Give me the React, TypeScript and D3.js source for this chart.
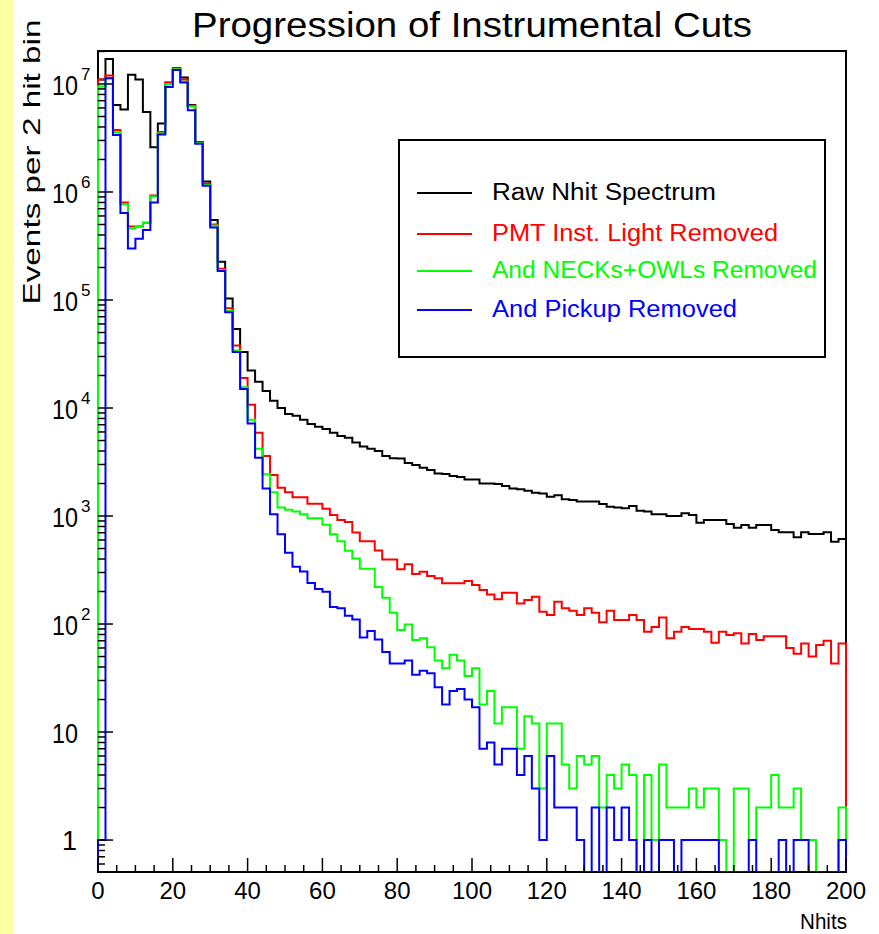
import React from "react";
import * as d3 from "d3";

// ---------- data (events per 2-hit bin, bins 0-2, 2-4, ... 198-200) ----------
const binWidth = 2;
const nBins = 100;

const rawNhit = [
  1.1e7, 1.7e7, 6.4e6, 5.8e6, 1.22e7, 1.1e7, 5.5e6, 2.6e6, 4.3e6, 1.03e7,
  1.4e7, 1.15e7, 6.4e6, 2.9e6, 1.25e6, 5.5e5, 2.26e5, 1.03e5, 5.4e4, 3.3e4,
  2.23e4, 1.75e4, 1.44e4, 1.17e4, 1.0e4, 8.8e3, 8.5e3, 7.8e3, 7.1e3, 6.7e3,
  6.4e3, 5.9e3, 5.5e3, 5.3e3, 4.8e3, 4.4e3, 4.2e3, 4.0e3, 3.6e3, 3.42e3,
  3.4e3, 3.1e3, 2.97e3, 2.8e3, 2.67e3, 2.48e3, 2.45e3, 2.35e3, 2.3e3, 2.18e3,
  2.18e3, 2.0e3, 2.0e3, 1.98e3, 1.9e3, 1.8e3, 1.77e3, 1.71e3, 1.64e3, 1.62e3,
  1.51e3, 1.56e3, 1.43e3, 1.41e3, 1.36e3, 1.36e3, 1.36e3, 1.29e3, 1.22e3, 1.2e3,
  1.18e3, 1.24e3, 1.12e3, 1.1e3, 1.04e3, 1.04e3, 1.0e3, 1.0e3, 1.06e3, 1.02e3,
  867, 918, 918, 918, 843, 779, 826, 779, 826, 826,
  742, 706, 706, 635, 706, 681, 681, 706, 578, 612,
];

const pmtLightRemoved = [
  1.1e7, 1.2e7, 3.75e6, 8.0e5, 4.8e5, 4.8e5, 5.2e5, 9.3e5, 3.6e6, 1.02e7,
  1.38e7, 1.1e7, 6.3e6, 2.85e6, 1.19e6, 5.0e5, 1.95e5, 8.4e4, 3.8e4, 1.9e4,
  1.07e4, 5.9e3, 3.6e3, 2.4e3, 1.83e3, 1.66e3, 1.49e3, 1.49e3, 1.3e3, 1.3e3,
  1.17e3, 1.02e3, 917, 880, 705, 585, 585, 480, 395, 395,
  321, 357, 290, 305, 278, 265, 238, 238, 238, 250,
  230, 207, 188, 170, 195, 195, 155, 167, 179, 130,
  121, 161, 140, 133, 121, 140, 127, 104, 133, 109,
  109, 121, 109, 85, 94, 115, 74, 85, 94, 90,
  90, 85, 67, 85, 79, 82, 66, 81, 71, 77,
  77, 77, 60, 53, 66, 50, 64, 70, 43, 66,
];

const necksOwlsRemoved = [
  9.5e6, 1.13e7, 3.57e6, 7.7e5, 4.6e5, 4.8e5, 5.2e5, 9.1e5, 3.5e6, 1.0e7,
  1.37e7, 1.05e7, 6.2e6, 2.85e6, 1.16e6, 4.9e5, 1.9e5, 7.9e4, 3.4e4, 1.56e4,
  7.8e3, 4.2e3, 2.43e3, 1.66e3, 1.2e3, 1.14e3, 1.1e3, 1.04e3, 955, 955,
  830, 677, 585, 477, 405, 325, 325, 220, 175, 127,
  88, 99, 71, 74, 61, 46, 39, 52, 46, 33,
  39, 18, 24, 12, 17, 17, 7, 14, 12, 3,
  12, 12, 5, 3, 6, 5, 6, 2, 4, 3,
  5, 4, 0, 4, 1, 5, 2, 2, 2, 3,
  2, 3, 3, 1, 0, 3, 3, 1, 2, 2,
  4, 2, 2, 3, 1, 1, 0, 0, 0, 2,
];

const pickupRemoved = [
  1, 1.13e7, 3.37e6, 6.4e5, 3.0e5, 3.7e5, 4.45e5, 8.0e5, 3.4e6, 9.4e6,
  1.35e7, 1.03e7, 5.7e6, 2.8e6, 1.14e6, 4.7e5, 1.86e5, 7.7e4, 3.3e4, 1.5e4,
  7.2e3, 3.46e3, 1.8e3, 1.04e3, 677, 458, 339, 307, 240, 211,
  199, 144, 140, 119, 110, 75, 86, 72, 55, 43,
  43, 46, 34, 37, 35, 26, 18, 24, 25, 20,
  17, 7, 8, 5, 7, 7, 4, 6, 3, 1,
  6, 2, 2, 2, 1, 0, 2, 0, 2, 1,
  2, 1, 0, 1, 0, 1, 1, 0, 1, 1,
  1, 1, 1, 0, 0, 0, 0, 1, 0, 0,
  0, 1, 0, 1, 1, 0, 0, 0, 0, 1,
];

const seriesNames = [
  "Raw Nhit Spectrum",
  "PMT Inst. Light Removed",
  "And NECKs+OWLs Removed",
  "And Pickup Removed",
];
const seriesColors = ["#000000", "#ff0000", "#00ff00", "#0000ff"];
const seriesValues = [rawNhit, pmtLightRemoved, necksOwlsRemoved, pickupRemoved];

const xTickLabels = [0, 20, 40, 60, 80, 100, 120, 140, 160, 180, 200];
const yDecades = [0, 1, 2, 3, 4, 5, 6, 7];

const titleText = "Progression of Instrumental Cuts";
const yTitle = "Events per 2 hit bin";
const xTitle = "Nhits";

// ---------- layout ----------
const W = 879;
const H = 934;
const frame = { left: 98, right: 846, top: 51, bottom: 872 };
const yMin = 0.506;
const yMax = 2.02e7;

export default function App() {
  const x = d3.scaleLinear().domain([0, nBins * binWidth]).range([frame.left, frame.right]);
  const y = d3.scaleLog().domain([yMin, yMax]).range([frame.bottom, frame.top]).clamp(true);

  const yOf = (v: number) => (v > 0 ? y(v) : frame.bottom);

  const histPath = (vals: number[]) => {
    const p = d3.path();
    p.moveTo(x(0), frame.bottom);
    vals.forEach((v, i) => {
      const yy = yOf(v);
      p.lineTo(x(i * binWidth), yy);
      p.lineTo(x((i + 1) * binWidth), yy);
    });
    p.lineTo(x(vals.length * binWidth), frame.bottom);
    return p.toString();
  };

  const yMajor = yDecades.map((k) => Math.pow(10, k));
  const yMinor: number[] = [];
  for (let k = -1; k <= 7; k++) {
    for (let m = 2; m <= 9; m++) {
      const v = m * Math.pow(10, k);
      if (v >= yMin && v <= yMax) yMinor.push(v);
    }
  }
  const xMinor = d3.range(0, 201, 5).filter((v) => v % 20 !== 0);

  const legendRows = [193, 234, 271, 310];
  const legendLens = [224, 286, 325, 245];

  const font = "'Liberation Sans', Arial, Helvetica, sans-serif";

  return (
    <svg
      width={W}
      height={H}
      style={{ position: "absolute", left: 0, top: 0, background: "#ffffff" }}
      fontFamily={font}
    >
      <rect x={0} y={0} width={W} height={H} fill="#ffffff" />
      <rect x={0} y={0} width={14} height={H} fill="#ffffa0" />

      <text x={472} y={37} fontSize={35} textAnchor="middle" textLength={560} lengthAdjust="spacingAndGlyphs">
        {titleText}
      </text>

      <rect
        x={frame.left}
        y={frame.top}
        width={frame.right - frame.left}
        height={frame.bottom - frame.top}
        fill="none"
        stroke="#000"
        strokeWidth={2}
      />

      <defs>
        <clipPath id="plotclip">
          <rect x={frame.left - 1} y={frame.top} width={frame.right - frame.left + 2} height={frame.bottom - frame.top} />
        </clipPath>
      </defs>

      <g clipPath="url(#plotclip)">
        {seriesValues.map((vals, i) => (
          <path key={i} d={histPath(vals)} fill="none" stroke={seriesColors[i]} strokeWidth={2} />
        ))}
      </g>

      <g stroke="#000" strokeWidth={1.5}>
        {yMajor.map((v) => (
          <line key={"ym" + v} x1={frame.left} x2={frame.left + 15} y1={y(v)} y2={y(v)} />
        ))}
        {yMinor.map((v) => (
          <line key={"yn" + v} x1={frame.left} x2={frame.left + 7} y1={y(v)} y2={y(v)} />
        ))}
      </g>

      <g stroke="#000" strokeWidth={1.5}>
        {xTickLabels.map((v) => (
          <line key={"xm" + v} x1={x(v)} x2={x(v)} y1={frame.bottom} y2={frame.bottom - 14} />
        ))}
        {xMinor.map((v) => (
          <line key={"xn" + v} x1={x(v)} x2={x(v)} y1={frame.bottom} y2={frame.bottom - 7} />
        ))}
      </g>

      <g fontSize={27}>
        {yDecades.map((k) => {
          const ty = y(Math.pow(10, k));
          if (k === 0)
            return (
              <text key={k} x={77} y={ty + 10} textAnchor="end">
                1
              </text>
            );
          return (
            <g key={k}>
              <text x={78} y={ty + 11} textAnchor="end" textLength={26} lengthAdjust="spacingAndGlyphs">
                10
              </text>
              {k > 1 && (
                <text x={81} y={ty - 4} fontSize={17}>
                  {k}
                </text>
              )}
            </g>
          );
        })}
      </g>

      <g fontSize={24} textAnchor="middle">
        {xTickLabels.map((v) => (
          <text key={v} x={x(v)} y={899}>
            {v}
          </text>
        ))}
      </g>
      <text x={847} y={929} fontSize={22} textAnchor="end" textLength={47} lengthAdjust="spacingAndGlyphs">
        {xTitle}
      </text>

      <text
        transform="translate(40,162) rotate(-90)"
        fontSize={24}
        textAnchor="middle"
        textLength={285}
        lengthAdjust="spacingAndGlyphs"
      >
        {yTitle}
      </text>

      <rect x={399} y={140} width={426} height={217} fill="#ffffff" stroke="#000" strokeWidth={2} />
      {seriesNames.map((name, i) => (
        <g key={name}>
          <line x1={417} x2={472} y1={legendRows[i]} y2={legendRows[i]} stroke={seriesColors[i]} strokeWidth={2} />
          <text
            x={492}
            y={legendRows[i] + 7}
            fontSize={23}
            fill={seriesColors[i]}
            textLength={legendLens[i]}
            lengthAdjust="spacingAndGlyphs"
          >
            {name}
          </text>
        </g>
      ))}
    </svg>
  );
}
